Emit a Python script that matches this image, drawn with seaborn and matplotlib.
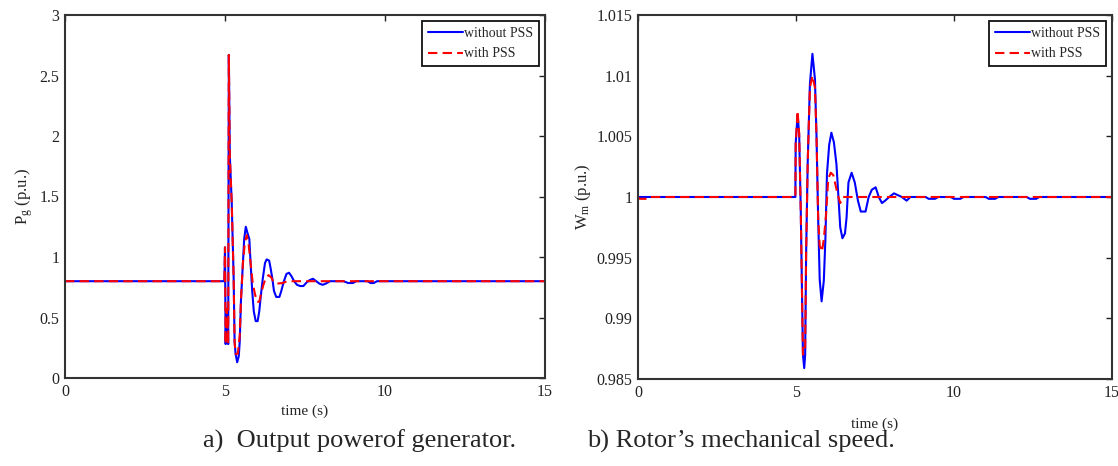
import matplotlib
matplotlib.use("Agg")
import matplotlib.pyplot as plt
import seaborn as sns
import pandas as pd

# a) output power of generator (p.u.)
t_pg_without = [0, 4.98, 5.00, 5.02, 5.04, 5.07, 5.10, 5.12, 5.15, 5.21, 5.27, 5.30, 5.33, 5.38,
                5.43, 5.46, 5.50, 5.55, 5.60, 5.65, 5.70, 5.76, 5.80, 5.85, 5.90, 5.96, 6.02,
                6.07, 6.12, 6.18, 6.25, 6.30, 6.38, 6.43, 6.48, 6.53, 6.60, 6.70, 6.76, 6.84,
                6.92, 7.00, 7.08, 7.16, 7.25, 7.35, 7.45, 7.55, 7.65, 7.75, 7.85, 7.95, 8.05,
                8.15, 8.28, 8.70, 8.85, 9.00, 9.10, 9.45, 9.55, 9.65, 9.75, 15]
pg_without = [0.80, 0.80, 1.08, 0.28, 0.57, 0.52, 0.28, 2.67, 1.84, 1.45, 0.83, 0.30, 0.20, 0.13,
              0.18, 0.30, 0.65, 0.90, 1.15, 1.25, 1.20, 1.15, 0.95, 0.72, 0.55, 0.47, 0.47,
              0.55, 0.68, 0.82, 0.95, 0.98, 0.97, 0.90, 0.82, 0.72, 0.67, 0.67, 0.72, 0.80,
              0.86, 0.87, 0.84, 0.80, 0.77, 0.76, 0.76, 0.79, 0.81, 0.82, 0.80, 0.78, 0.77,
              0.78, 0.80, 0.80, 0.785, 0.785, 0.80, 0.80, 0.785, 0.785, 0.80, 0.80]

t_pg_with = [0, 4.98, 5.00, 5.02, 5.04, 5.07, 5.10, 5.12, 5.15, 5.21, 5.27, 5.30, 5.33, 5.40,
             5.46, 5.50, 5.56, 5.62, 5.68, 5.74, 5.80, 5.86, 5.93, 6.00, 6.07, 6.13, 6.20,
             6.28, 6.36, 6.45, 6.52, 6.62, 6.80, 6.95, 15]
pg_with = [0.80, 0.80, 1.08, 0.28, 0.57, 0.52, 0.28, 2.67, 1.84, 1.45, 0.83, 0.30, 0.20, 0.20,
           0.35, 0.65, 0.95, 1.12, 1.18, 1.10, 0.95, 0.80, 0.70, 0.63, 0.63, 0.70, 0.77,
           0.83, 0.85, 0.83, 0.79, 0.78, 0.785, 0.80, 0.80]

# b) rotor mechanical speed (p.u.)
t_wm_without = [0, 4.98, 4.99, 5.05, 5.10, 5.15, 5.22, 5.26, 5.29, 5.32, 5.37, 5.44, 5.52, 5.60,
                5.65, 5.70, 5.75, 5.81, 5.88, 5.93, 5.98, 6.05, 6.12, 6.20, 6.28, 6.35, 6.40,
                6.47, 6.55, 6.60, 6.66, 6.76, 6.86, 6.96, 7.05, 7.20, 7.30, 7.40, 7.52, 7.62,
                7.72, 7.82, 7.95, 8.10, 8.35, 8.50, 8.62, 9.10, 9.20, 9.40, 9.50, 9.90, 10.0,
                10.2, 10.3, 11.0, 11.1, 11.3, 11.4, 12.3, 12.4, 12.6, 12.7, 15]
wm_without = [1.0, 1.0, 1.0044, 1.0068, 1.0052, 0.9990, 0.9870, 0.9859, 0.9870, 0.9953, 1.0028,
              1.0093, 1.0118, 1.0097, 1.0049, 0.9984, 0.9932, 0.9914, 0.9931, 0.9965, 1.0019,
              1.0043, 1.0053, 1.0045, 1.0027, 0.9997, 0.9975, 0.9966, 0.9970, 0.9983, 1.0012,
              1.0020, 1.0012, 0.9997, 0.9988, 0.9988, 1.0000, 1.0006, 1.0008, 1.0000, 0.9995,
              0.9997, 1.0000, 1.0003, 1.0000, 0.9997, 1.0000, 1.0000, 0.99985, 0.99985, 1.0000,
              1.0000, 0.99985, 0.99985, 1.0000, 1.0000, 0.99985, 0.99985, 1.0000, 1.0000,
              0.99985, 0.99985, 1.0000, 1.0000]

t_wm_with = [0, 0.05, 0.35, 0.40, 4.98, 4.99, 5.05, 5.10, 5.15, 5.22, 5.29, 5.32, 5.37, 5.44,
             5.52, 5.60, 5.65, 5.70, 5.75, 5.82, 5.88, 5.95, 6.02, 6.10, 6.18, 6.25, 6.32,
             6.40, 6.48, 15]
wm_with = [1.0, 0.99985, 0.99985, 1.0, 1.0, 1.0044, 1.0071, 1.0052, 0.9990, 0.9870, 0.9875,
           0.9953, 1.0028, 1.0090, 1.0100, 1.0090, 1.0049, 0.9984, 0.9960, 0.9955, 0.9965,
           0.9985, 1.0015, 1.0020, 1.0018, 1.0010, 1.0002, 0.9995, 1.0000, 1.0000]

x_ticks = [0, 5, 10, 15]
pg_ticks = [0, 0.5, 1, 1.5, 2, 2.5, 3]
wm_ticks = [0.985, 0.99, 0.995, 1, 1.005, 1.01, 1.015]

sns.set_style("white")
plt.rcParams["font.family"] = ["Liberation Serif", "DejaVu Serif"]
plt.rcParams["mathtext.fontset"] = "custom"
plt.rcParams["mathtext.rm"] = "Liberation Serif"
plt.rcParams["mathtext.it"] = "Liberation Serif"

fig = plt.figure(figsize=(11.18, 4.66), dpi=100)
ax1 = fig.add_axes([65 / 1118, 1 - 378 / 466, 480 / 1118, 363 / 466])
ax2 = fig.add_axes([638 / 1118, 1 - 379 / 466, 474 / 1118, 364 / 466])

panels = [
    (ax1, t_pg_without, pg_without, t_pg_with, pg_with, pg_ticks, "P$_g$ (p.u.)", -0.062, -0.074),
    (ax2, t_wm_without, wm_without, t_wm_with, wm_with, wm_ticks, "W$_m$ (p.u.)", -0.095, -0.107),
]

for ax, tb, yb, tr, yr, yt, ylab, ylx, xly in panels:
    df_b = pd.DataFrame({"t": tb, "v": yb})
    df_r = pd.DataFrame({"t": tr, "v": yr})
    sns.lineplot(data=df_b, x="t", y="v", ax=ax, color="#0000ff", lw=1.5,
                 estimator=None, sort=False, label="without PSS")
    sns.lineplot(data=df_r, x="t", y="v", ax=ax, color="#ff0000", lw=1.5,
                 estimator=None, sort=False, label="with PSS")
    ax.lines[-1].set_dashes((4.5, 2.5))

    ax.set_xlim(0, 15)
    ax.set_ylim(yt[0], yt[-1])
    ax.set_xticks(x_ticks)
    ax.set_yticks(yt)
    ax.set_yticklabels([f"{v:g}" for v in yt])
    ax.tick_params(direction="in", top=True, right=True, length=4, width=1,
                   labelsize=11.5, pad=4, colors="#222222")
    for sp in ax.spines.values():
        sp.set_linewidth(1.5)
        sp.set_color("#333333")

    ax.set_xlabel("time (s)", fontsize=11)
    ax.xaxis.set_label_coords(0.5, xly)
    ax.set_ylabel(ylab, fontsize=12)
    ax.yaxis.set_label_coords(ylx, 0.5)

    leg = ax.legend(loc="upper right", fontsize=10, handlelength=2.5, handletextpad=0.1,
                    labelspacing=0.55, borderpad=0.4, borderaxespad=0.45, fancybox=False)
    leg.get_frame().set_edgecolor("#111111")
    leg.get_frame().set_linewidth(1.3)
    leg.get_frame().set_alpha(1)

fig.text(359.5 / 1118, 1 - 448 / 466, "a)  Output powerof generator.", ha="center",
         va="baseline", fontsize=19)
fig.text(740.5 / 1118, 1 - 448 / 466, "b) Rotor\u2019s mechanical speed.", ha="center",
         va="baseline", fontsize=19)

fig.savefig("out.png", dpi=100)
